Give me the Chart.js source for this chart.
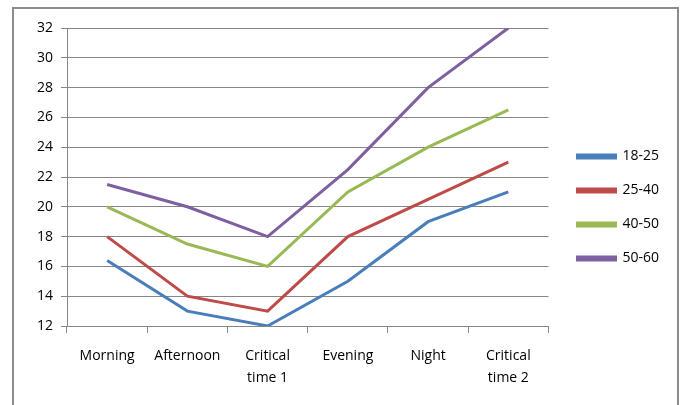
<!DOCTYPE html>
<html>
<head>
<meta charset="utf-8">
<script src="https://cdn.jsdelivr.net/npm/chart.js@4"></script>
<style>
  body { margin: 0; background: #fff; }
  .frame {
    position: absolute; left: 12px; top: 7px;
    width: 667px; height: 410px;
    border: 2px solid #8c8c8c; box-sizing: border-box;
  }
  canvas { position: absolute; left: 0; top: 0; }
</style>
</head>
<body>
<div class="frame">
  <canvas id="chart" width="663" height="400"></canvas>
</div>
<script>
const categories = ["Morning", "Afternoon", ["Critical", "time 1"], "Evening", "Night", ["Critical", "time 2"]];
const groupNames = ["18-25", "25-40", "40-50", "50-60"];
const age18to25 = [16.4, 13, 12, 15, 19, 21];
const age25to40 = [18, 14, 13, 18, 20.5, 23];
const age40to50 = [20, 17.5, 16, 21, 24, 26.5];
const age50to60 = [21.5, 20, 18, 22.5, 28, 32];
const lineColors = ["#4a7ebb", "#be4b48", "#98b954", "#7d60a0"];

const gridGray = "#868686";
const font = { family: "'Open Sans', Lato, sans-serif", size: 14, lineHeight: 1.55 };

// nudge the legend a bit to the right of the plot, like the original
const legendShift = {
    id: "legendShift",
    afterLayout(chart) {
        chart.legend.left += 9;
        chart.legend.right += 9;
    }
};

const ctx = document.getElementById("chart").getContext("2d");
const chart = new Chart(ctx, {
    type: "line",
    data: {
        labels: categories,
        datasets: [age18to25, age25to40, age40to50, age50to60].map((vals, i) => ({
            label: groupNames[i],
            data: vals,
            borderColor: lineColors[i],
            backgroundColor: lineColors[i],
            borderWidth: 3,
            pointRadius: 0,
            tension: 0,
            fill: false
        }))
    },
    plugins: [legendShift],
    options: {
        responsive: false,
        animation: false,
        layout: { padding: { top: 19, bottom: 22, left: 0, right: 17 } },
        plugins: {
            tooltip: { enabled: false },
            legend: {
                position: "right",
                labels: {
                    color: "#000",
                    font: { family: font.family, size: 14 },
                    boxWidth: 38,
                    boxHeight: 3,
                    padding: 20
                }
            }
        },
        scales: {
            x: {
                offset: true,
                grid: {
                    offset: true,
                    drawOnChartArea: false,
                    color: gridGray,
                    tickLength: 7
                },
                border: { color: gridGray, width: 1 },
                ticks: { color: "#000", font: font, padding: 12, maxRotation: 0 },
                afterFit: scale => { scale.height = 61; }
            },
            y: {
                min: 12,
                max: 32,
                ticks: { stepSize: 2, color: "#000", font: { family: font.family, size: 14 }, padding: 8 },
                grid: { color: gridGray, tickLength: 6 },
                border: { color: gridGray, width: 1 },
                afterFit: scale => { scale.width = 53; }
            }
        }
    }
});
</script>
</body>
</html>
